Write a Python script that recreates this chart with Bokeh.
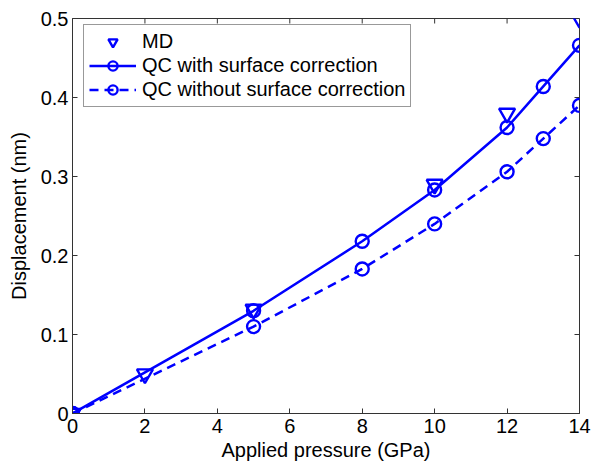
import math
from bokeh.plotting import figure
from bokeh.models import Range1d, Legend, LegendItem, FixedTicker
from bokeh.embed import file_html
from bokeh.resources import INLINE

md_x = [0, 2, 5, 10, 12, 14]
md_y = [0.0, 0.05, 0.132, 0.29, 0.38, 0.5]
qc_x = [0, 5, 8, 10, 12, 13, 14]
qc_with = [0.0, 0.13, 0.218, 0.283, 0.362, 0.414, 0.466]
qc_without = [0.0, 0.11, 0.183, 0.24, 0.306, 0.348, 0.39]
x_ticks = [0, 2, 4, 6, 8, 10, 12, 14]
y_ticks = [0, 0.1, 0.2, 0.3, 0.4, 0.5]

FONT = "Liberation Sans"
BLUE = "#0000ff"
AX = "#333333"
x0, x1 = x_ticks[0], x_ticks[-1]
y0, y1 = y_ticks[0], y_ticks[-1]

p = figure(width=592, height=464, output_backend="svg", toolbar_location=None,
           x_range=Range1d(x0, x1), y_range=Range1d(y0, y1),
           min_border_left=72, min_border_right=13, min_border_top=18, min_border_bottom=51)
p.xgrid.visible = False
p.ygrid.visible = False
p.outline_line_color = AX
p.background_fill_color = "white"
p.border_fill_color = "white"

for ax, ticks in ((p.xaxis[0], x_ticks), (p.yaxis[0], y_ticks)):
    ax.ticker = FixedTicker(ticks=ticks)
    ax.major_tick_in = 5
    ax.major_tick_out = 0
    ax.minor_tick_line_color = None
    ax.axis_line_color = AX
    ax.major_tick_line_color = AX
    ax.major_label_text_font = FONT
    ax.major_label_text_font_size = "20px"
    ax.major_label_text_color = "black"
    ax.axis_label_text_font = FONT
    ax.axis_label_text_font_size = "20px"
    ax.axis_label_text_font_style = "normal"
    ax.axis_label_text_color = "black"
    ax.major_label_text_line_height = 0.9
    ax.axis_label_text_line_height = 0.9
p.xaxis[0].axis_label = "Applied pressure (GPa)"
p.yaxis[0].axis_label = "Displacement (nm)"
p.xaxis[0].major_label_standoff = 5
p.xaxis[0].axis_label_standoff = 3
p.yaxis[0].major_label_standoff = 4
p.yaxis[0].axis_label_standoff = 8

# inward ticks on the top and right edges of the box
p.ray(x=x_ticks, y=[y1] * len(x_ticks), length=5, length_units="screen",
      angle=-math.pi / 2, line_color=AX, line_width=1)
p.ray(x=[x1] * len(y_ticks), y=y_ticks, length=5, length_units="screen",
      angle=math.pi, line_color=AX, line_width=1)

r_md = p.scatter(md_x, md_y, marker="inverted_triangle", size=16, line_color=BLUE,
                 line_width=2.4, fill_color=None)
l_w = p.line(qc_x, qc_with, line_color=BLUE, line_width=2.5)
s_w = p.scatter(qc_x, qc_with, marker="circle", size=13, line_color=BLUE,
                line_width=2.4, fill_color=None)
l_wo = p.line(qc_x, qc_without, line_color=BLUE, line_width=2.5, line_dash="9 6")
s_wo = p.scatter(qc_x, qc_without, marker="circle", size=13, line_color=BLUE,
                 line_width=2.4, fill_color=None)

legend = Legend(items=[
    LegendItem(label="MD", renderers=[r_md]),
    LegendItem(label="QC with surface correction", renderers=[l_w, s_w]),
    LegendItem(label="QC without surface correction", renderers=[l_wo, s_wo]),
], location=(11, 306))
legend.label_text_font = FONT
legend.label_text_font_size = "20px"
legend.label_text_color = "black"
legend.border_line_color = AX
legend.border_line_width = 1
legend.glyph_width = 47
legend.glyph_height = 23
legend.label_height = 23
legend.spacing = 1
legend.padding = 5
legend.margin = 0
legend.label_standoff = 6
legend.background_fill_alpha = 1
p.add_layout(legend)

open("out.html", "w").write(file_html(p, INLINE))
